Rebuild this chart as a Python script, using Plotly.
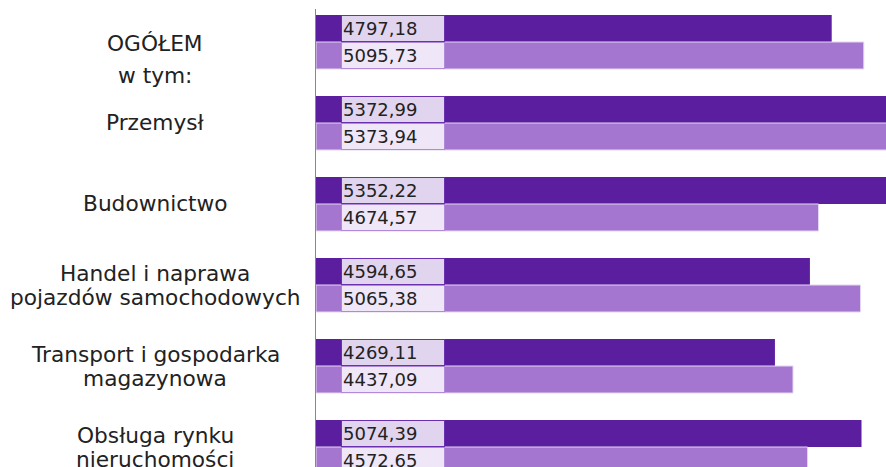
import plotly.graph_objects as go

categories = ["OGÓŁEM<br>w tym:", "Przemysł", "Budownictwo",
              "Handel i naprawa<br>pojazdów samochodowych",
              "Transport i gospodarka<br>magazynowa",
              "Obsługa rynku<br>nieruchomości"]
series_a = [4797.18, 5372.99, 5352.22, 4594.65, 4269.11, 5074.39]
series_b = [5095.73, 5373.94, 4674.57, 5065.38, 4437.09, 4572.65]

def fmt(v):
    return f"{v:.2f}".replace(".", ",")

idx = list(range(len(categories)))
dark = "#5b1e9e"
light = "#a476d0"
font = "DejaVu Sans"

fig = go.Figure()
fig.add_trace(go.Bar(y=idx, x=series_a, orientation="h", marker=dict(color=dark, line=dict(width=0)),
                     offset=-1/3, width=1/3, showlegend=False, hoverinfo="x"))
fig.add_trace(go.Bar(y=idx, x=series_b, orientation="h",
                     marker=dict(color=light, line=dict(color="#e3d6f2", width=1)),
                     offset=0, width=1/3, showlegend=False, hoverinfo="x"))

ann = []
for i, (a, b) in enumerate(zip(series_a, series_b)):
    ann.append(dict(xref="paper", yref="y", x=25/570, y=i - 1/6, xanchor="left", yanchor="middle",
                    text=fmt(a), showarrow=False, align="left", width=100, height=23,
                    bgcolor="#e1d4ef", bordercolor="#6a30b0", borderwidth=1, borderpad=1,
                    font=dict(family=font, size=18, color="#222222")))
    ann.append(dict(xref="paper", yref="y", x=25/570, y=i + 1/6, xanchor="left", yanchor="middle",
                    text=fmt(b), showarrow=False, align="left", width=100, height=23,
                    bgcolor="#efe6f8", bordercolor="#b08ada", borderwidth=1, borderpad=1,
                    font=dict(family=font, size=18, color="#222222")))
    lines = categories[i].split("<br>")
    if i == 0:
        shifts = [-1, -33]
    elif len(lines) == 2:
        shifts = [12, -12]
    else:
        shifts = [1]
    for line, s in zip(lines, shifts):
        ann.append(dict(xref="paper", yref="y", x=-(316-155)/570, y=i, xanchor="center",
                        yanchor="middle", text=line, showarrow=False, align="center", yshift=s,
                        font=dict(family=font, size=21.7, color="#222222")))

fig.update_layout(
    width=886, height=467,
    margin=dict(l=316, r=0, t=9, b=0),
    paper_bgcolor="white", plot_bgcolor="white",
    barmode="overlay",
    annotations=ann,
    xaxis=dict(range=[0, 570/0.1075], showgrid=False, zeroline=False, showticklabels=False,
               showline=False),
    yaxis=dict(range=[5 + 20/81, -33/81], showgrid=False, zeroline=False, showticklabels=False,
               showline=True, linecolor="#888888", linewidth=1, ticks=""),
)
fig.write_html("out.html", config={"displayModeBar": False},
               post_script="document.body.style.margin='0';document.body.style.overflow='hidden';")
